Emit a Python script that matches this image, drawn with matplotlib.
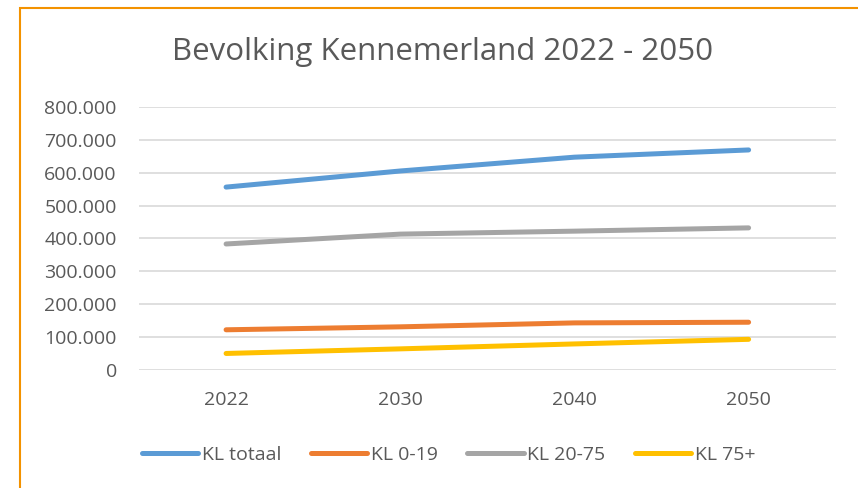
import matplotlib
matplotlib.use("Agg")
import matplotlib.pyplot as plt
from matplotlib.patches import Rectangle
import matplotlib.ticker as mtick

plt.rcParams['font.family'] = ['Open Sans', 'DejaVu Sans']

years = ['2022', '2030', '2040', '2050']
kl_totaal = [556000, 605000, 647000, 669000]
kl_0_19 = [122000, 131000, 143000, 145000]
kl_20_75 = [383000, 413000, 422000, 432000]
kl_75plus = [50000, 64000, 79000, 93000]

series = [
    ('KL totaal', kl_totaal, '#5B9BD5'),
    ('KL 0-19', kl_0_19, '#ED7D31'),
    ('KL 20-75', kl_20_75, '#A5A5A5'),
    ('KL 75+', kl_75plus, '#FFC000'),
]

fig = plt.figure(figsize=(8.58, 4.88), dpi=100)
ax = fig.add_axes([0.162, 0.242, 0.812, 0.539])

x = range(len(years))
for name, vals, col in series:
    ax.plot(x, vals, color=col, lw=3.6, solid_capstyle='round', label=name)

ax.set_xlim(-0.5, len(years) - 0.5)
ax.set_ylim(0, 800000)
ax.set_yticks(range(0, 800001, 100000))
ax.yaxis.set_major_formatter(mtick.FuncFormatter(
    lambda v, p: '0' if v == 0 else f"{int(v):,}".replace(',', '.')))
ax.set_xticks(list(x))
ax.set_xticklabels(years)
ax.grid(axis='y', color='#D9D9D9', lw=1.2)
ax.set_axisbelow(True)
for s in ax.spines.values():
    s.set_visible(False)
ax.tick_params(axis='both', length=0, labelsize=14, colors='#595959')
ax.tick_params(axis='y', pad=16)
ax.tick_params(axis='x', pad=15)

fig.text(0.516, 0.893, 'Bevolking Kennemerland 2022 - 2050', ha='center', va='center',
         fontsize=22.5, color='#595959')

fig.legend(loc='center', bbox_to_anchor=(0.523, 0.068), ncol=4, frameon=False,
           fontsize=14, handlelength=2.9, handletextpad=0.2, columnspacing=1.5,
           labelcolor='#595959')

# orange frame of the chart object (runs off the right/bottom edge)
fig.patches.append(Rectangle((20 / 858, -0.05), 1.1, 1.05 - 8 / 488,
                             transform=fig.transFigure, fill=False,
                             edgecolor='#F39200', lw=1.5, figure=fig))

fig.savefig('out.png', dpi=100)
